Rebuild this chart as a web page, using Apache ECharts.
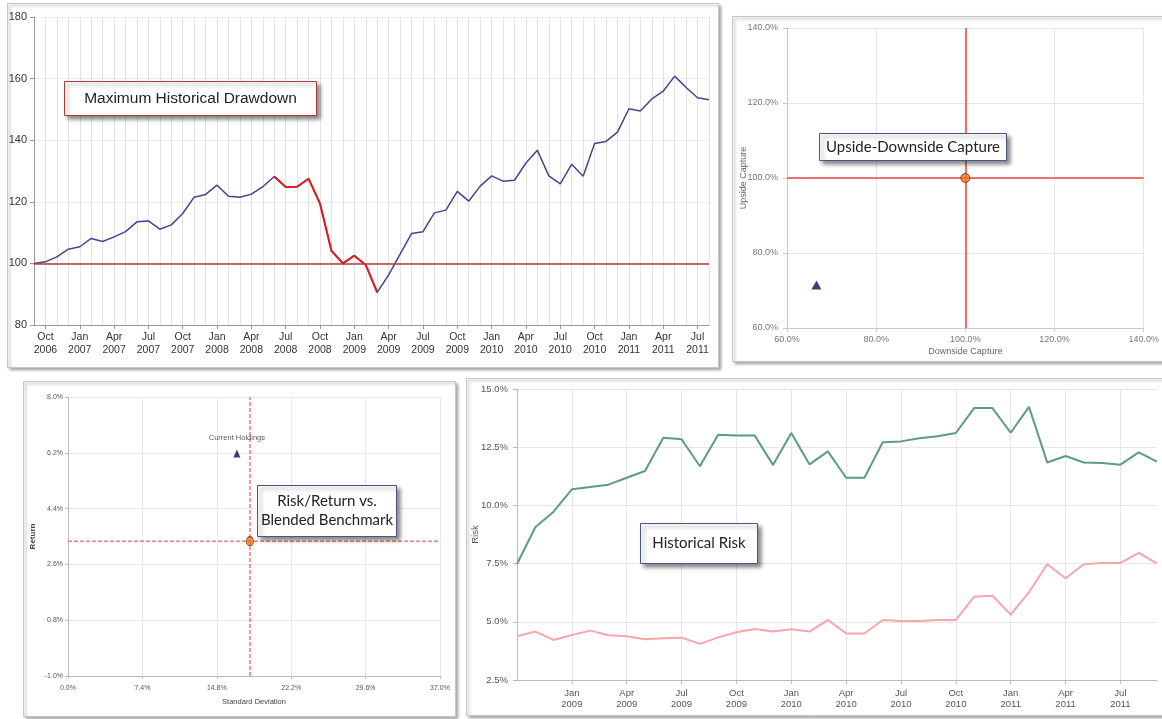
<!DOCTYPE html>
<html><head><meta charset="utf-8">
<script src="https://cdn.jsdelivr.net/npm/echarts@6/dist/echarts.min.js"></script>
<style>html,body{margin:0;padding:0;background:#fff}#c{width:1162px;height:719px}</style>
</head><body><div id="c"></div>
<script>
// ---- Panel 1: Maximum Historical Drawdown ----
const ddMonths = ['Sep 2006','Oct 2006','Nov 2006','Dec 2006',
  'Jan 2007','Feb 2007','Mar 2007','Apr 2007','May 2007','Jun 2007','Jul 2007','Aug 2007','Sep 2007','Oct 2007','Nov 2007','Dec 2007',
  'Jan 2008','Feb 2008','Mar 2008','Apr 2008','May 2008','Jun 2008','Jul 2008','Aug 2008','Sep 2008','Oct 2008','Nov 2008','Dec 2008',
  'Jan 2009','Feb 2009','Mar 2009','Apr 2009','May 2009','Jun 2009','Jul 2009','Aug 2009','Sep 2009','Oct 2009','Nov 2009','Dec 2009',
  'Jan 2010','Feb 2010','Mar 2010','Apr 2010','May 2010','Jun 2010','Jul 2010','Aug 2010','Sep 2010','Oct 2010','Nov 2010','Dec 2010',
  'Jan 2011','Feb 2011','Mar 2011','Apr 2011','May 2011','Jun 2011','Jul 2011','Aug 2011'];
const ddValues = [100.0,100.5,102.1,104.6,
  105.4,108.1,107.1,108.6,110.3,113.5,113.8,111.1,112.5,116.2,121.5,122.4,
  125.4,121.8,121.5,122.5,124.9,128.2,124.8,124.9,127.5,119.4,104.1,100.0,
  102.5,99.5,90.6,96.3,103.0,109.7,110.3,116.4,117.3,123.4,120.2,125.1,
  128.4,126.7,127.0,132.6,136.7,128.4,125.8,132.2,128.3,138.9,139.6,142.6,
  150.2,149.5,153.4,155.9,160.8,157.1,153.8,153.1];
const ddStart = 'Jun 2008';
const ddEnd = 'Mar 2009';
const ddBase = 100;

// ---- Panel 2: Upside-Downside Capture ----
const capHoldings = [66.6, 71.5];     // [downside, upside]
const capBenchmark = [100, 100];

// ---- Panel 3: Risk/Return vs. Blended Benchmark ----
const rrHoldings = [16.8, 6.18];      // [std dev, return]
const rrBenchmark = [18.1, 3.35];
const rrXRange = [0, 37];             // axis extent, tick step 7.4
const rrYRange = [-1, 8];             // axis extent, tick step 1.8

// ---- Panel 4: Historical Risk ----
const riskMonths = ['Oct 2008','Nov 2008','Dec 2008',
  'Jan 2009','Feb 2009','Mar 2009','Apr 2009','May 2009','Jun 2009','Jul 2009','Aug 2009','Sep 2009','Oct 2009','Nov 2009','Dec 2009',
  'Jan 2010','Feb 2010','Mar 2010','Apr 2010','May 2010','Jun 2010','Jul 2010','Aug 2010','Sep 2010','Oct 2010','Nov 2010','Dec 2010',
  'Jan 2011','Feb 2011','Mar 2011','Apr 2011','May 2011','Jun 2011','Jul 2011','Aug 2011','Sep 2011'];
const riskGreen = [7.48,9.06,9.73,10.69,10.79,10.89,11.19,11.48,12.91,12.84,11.68,13.04,13.0,13.0,11.74,
  13.11,11.76,12.32,11.19,11.19,12.71,12.75,12.88,12.97,13.11,14.18,14.18,13.12,14.23,11.84,12.12,11.84,11.82,11.75,12.28,11.88];
const riskPink = [4.38,4.58,4.22,4.43,4.62,4.42,4.38,4.25,4.29,4.32,4.05,4.33,4.55,4.69,4.58,
  4.68,4.58,5.08,4.50,4.50,5.08,5.03,5.03,5.08,5.08,6.08,6.12,5.31,6.27,7.47,6.87,7.47,7.53,7.53,7.96,7.51];

const F = '"Liberation Sans", Arial, sans-serif';
const FB = 'Lato, "Open Sans", sans-serif';

const iS = ddMonths.indexOf(ddStart), iE = ddMonths.indexOf(ddEnd);
const ddRed = ddValues.map((v, i) => (i >= iS && i <= iE) ? v : null);
const quarterly = (i, v) => /^(Jan|Apr|Jul|Oct)/.test(v);
const quarterly4 = (i, v) => i > 0 && /^(Jan|Apr|Jul|Oct)/.test(v);
const nl = v => v.replace(' ', '\n');
const pct1 = v => v.toFixed(1) + '%';

function panel(x, y, w, h) {
  return {type:'rect', z:-10, shape:{x, y, width:w, height:h},
    style:{fill:'#fff', stroke:'#c6c6c6', lineWidth:1, shadowBlur:3, shadowOffsetX:2, shadowOffsetY:2, shadowColor:'rgba(0,0,0,0.35)'}};
}
function box(x, y, w, h, stroke, text, font, lh) {
  return {type:'group', children:[
    {type:'rect', z:100, shape:{x, y, width:w, height:h},
      style:{fill:'#fff', stroke, lineWidth:1, shadowBlur:4, shadowOffsetX:3, shadowOffsetY:3, shadowColor:'rgba(0,0,0,0.45)'}},
    {type:'text', z:101, x:x + w/2, y:y + h/2,
      style:{text, fill:'#222', font, align:'center', verticalAlign:'middle', lineHeight:lh || 18}}
  ]};
}

const RR_RED = '#e83535';
const CAP_RED = '#e84545';
const capLine = {color:CAP_RED, width:1.5, type:'solid'};

const chart = echarts.init(document.getElementById('c'));
chart.setOption({
  animation:false,
  backgroundColor:'#fff',
  graphic:{elements:[
    panel(7.5, 3.5, 711, 364),
    panel(732.5, 16.5, 440, 345),
    panel(23.5, 381.5, 432, 335),
    panel(466.5, 378.5, 710, 337),
    box(64.5, 81.5, 252, 34, '#a83a3a', 'Maximum Historical Drawdown', '15.5px ' + F),
    box(819.5, 133.5, 187, 27, '#4a5880', 'Upside-Downside Capture', '15px ' + FB),
    box(257.5, 485.5, 139, 51, '#4a5880', 'Risk/Return vs.\nBlended Benchmark', '15px ' + FB, 19),
    box(640.5, 523.5, 117, 40, '#4a5880', 'Historical Risk', '15px ' + FB)
  ]},
  grid:[
    {left:34, top:17, width:675, height:308},
    {left:787, top:28, width:358, height:300},
    {left:68, top:397, width:372, height:279},
    {left:517, top:389, width:640, height:291}
  ],
  xAxis:[
    {gridIndex:0, type:'category', data:ddMonths, boundaryGap:false,
      axisLine:{onZero:false, lineStyle:{color:'#999'}},
      axisTick:{show:true, interval:quarterly, length:4, lineStyle:{color:'#999'}},
      axisLabel:{interval:quarterly, formatter:nl, color:'#333', fontSize:10.5, fontFamily:F, margin:6, lineHeight:13},
      splitLine:{show:true, interval:0, lineStyle:{color:'#e2e2e2'}}},
    {gridIndex:1, type:'value', min:60, max:140, interval:20,
      name:'Downside Capture', nameLocation:'middle', nameGap:19, nameMoveOverlap:false,
      nameTextStyle:{color:'#666', fontSize:9, fontFamily:F},
      axisLine:{show:true, onZero:false, lineStyle:{color:'#c8c8c8'}},
      axisTick:{show:true, length:4, lineStyle:{color:'#c8c8c8'}},
      axisLabel:{formatter:pct1, color:'#777', fontSize:9, fontFamily:F, margin:7},
      splitLine:{show:true, lineStyle:{color:'#e6e6e6'}}},
    {gridIndex:2, type:'value', min:rrXRange[0], max:rrXRange[1], interval:7.4,
      name:'Standard Deviation', nameLocation:'middle', nameGap:22, nameMoveOverlap:false,
      nameTextStyle:{color:'#444', fontSize:7.5, fontFamily:F},
      axisLine:{show:true, onZero:false, lineStyle:{color:'#bbb'}},
      axisTick:{show:true, length:3, lineStyle:{color:'#bbb'}},
      axisLabel:{formatter:pct1, color:'#555', fontSize:7, fontFamily:F, margin:9},
      splitLine:{show:true, lineStyle:{color:'#e8e8e8'}}},
    {gridIndex:3, type:'category', data:riskMonths, boundaryGap:false,
      axisLine:{onZero:false, lineStyle:{color:'#bbb'}},
      axisTick:{show:true, interval:quarterly4, length:4, lineStyle:{color:'#bbb'}},
      axisLabel:{interval:quarterly4, formatter:nl, color:'#555', fontSize:9.5, fontFamily:F, margin:8, lineHeight:11},
      splitLine:{show:true, interval:quarterly4, lineStyle:{color:'#e6e6e6'}}}
  ],
  yAxis:[
    {gridIndex:0, type:'value', min:80, max:180, interval:20,
      axisLine:{show:true, onZero:false, lineStyle:{color:'#999'}},
      axisTick:{show:true, length:4, lineStyle:{color:'#999'}},
      axisLabel:{color:'#333', fontSize:11, fontFamily:F, margin:7},
      splitLine:{show:true, lineStyle:{color:'#ebebeb'}}},
    {gridIndex:1, type:'value', min:60, max:140, interval:20,
      name:'Upside Capture', nameLocation:'middle', nameGap:39, nameMoveOverlap:false,
      nameTextStyle:{color:'#666', fontSize:9, fontFamily:F},
      axisLine:{show:true, onZero:false, lineStyle:{color:'#c8c8c8'}},
      axisTick:{show:true, length:4, lineStyle:{color:'#c8c8c8'}},
      axisLabel:{formatter:pct1, color:'#777', fontSize:9, fontFamily:F, margin:9},
      splitLine:{show:true, lineStyle:{color:'#e6e6e6'}}},
    {gridIndex:2, type:'value', min:rrYRange[0], max:rrYRange[1], interval:1.8,
      name:'Return', nameLocation:'middle', nameGap:31, nameMoveOverlap:false,
      nameTextStyle:{color:'#444', fontSize:8, fontWeight:'bold', fontFamily:F},
      axisLine:{show:true, onZero:false, lineStyle:{color:'#bbb'}},
      axisTick:{show:true, length:3, lineStyle:{color:'#bbb'}},
      axisLabel:{formatter:pct1, color:'#555', fontSize:7, fontFamily:F, margin:5},
      splitLine:{show:true, lineStyle:{color:'#e8e8e8'}}},
    {gridIndex:3, type:'value', min:2.5, max:15, interval:2.5,
      name:'Risk', nameLocation:'middle', nameGap:37, nameMoveOverlap:false,
      nameTextStyle:{color:'#555', fontSize:9.5, fontFamily:F},
      axisLine:{show:true, onZero:false, lineStyle:{color:'#bbb'}},
      axisTick:{show:true, length:4, lineStyle:{color:'#bbb'}},
      axisLabel:{formatter:pct1, color:'#555', fontSize:9.5, fontFamily:F, margin:9},
      splitLine:{show:true, lineStyle:{color:'#e6e6e6'}}}
  ],
  series:[
    {type:'line', xAxisIndex:0, yAxisIndex:0, data:ddValues, symbol:'none', z:3,
      lineStyle:{color:'#45458f', width:1.5},
      markLine:{silent:true, symbol:'none', label:{show:false}, data:[{yAxis:ddBase}],
        lineStyle:{color:'#b03a3a', width:1.5, type:'solid'}}},
    {type:'line', xAxisIndex:0, yAxisIndex:0, data:ddRed, symbol:'none', z:4,
      lineStyle:{color:'#e01c1c', width:2}},
    // crosshair helper (panel 2)
    {type:'scatter', xAxisIndex:1, yAxisIndex:1, data:[capBenchmark], symbolSize:0, z:2, silent:true,
      itemStyle:{color:CAP_RED},
      markLine:{silent:true, symbol:'none', label:{show:false},
        data:[{xAxis:capBenchmark[0]},{yAxis:capBenchmark[1]}], lineStyle:capLine}},
    {type:'scatter', xAxisIndex:1, yAxisIndex:1, data:[capHoldings], symbol:'triangle', symbolSize:[10,9], z:3,
      itemStyle:{color:'#0c0c55'}},
    {type:'scatter', xAxisIndex:1, yAxisIndex:1, data:[capBenchmark], symbol:'circle', symbolSize:9, z:5,
      itemStyle:{color:'#e8781e', borderColor:'#6b3000', borderWidth:1}},
    // crosshair (panel 3): benchmark value across the full axis extent
    {type:'line', xAxisIndex:2, yAxisIndex:2, symbol:'none', z:2, silent:true,
      data:[[rrBenchmark[0], rrYRange[0]], [rrBenchmark[0], rrYRange[1]]],
      lineStyle:{color:RR_RED, width:1, type:[4,2]}},
    {type:'line', xAxisIndex:2, yAxisIndex:2, symbol:'none', z:2, silent:true,
      data:[[rrXRange[0], rrBenchmark[1]], [rrXRange[1], rrBenchmark[1]]],
      lineStyle:{color:RR_RED, width:1, type:[4,2]}},
    {type:'scatter', xAxisIndex:2, yAxisIndex:2, data:[rrHoldings], symbol:'triangle', symbolSize:[7,8], z:3,
      itemStyle:{color:'#0c0c55'},
      label:{show:true, position:'top', distance:7, formatter:'Current Holdings', color:'#333', fontSize:7.5, fontFamily:F}},
    {type:'scatter', xAxisIndex:2, yAxisIndex:2, data:[rrBenchmark], symbol:'circle', symbolSize:[7,9], z:5,
      itemStyle:{color:'#e8781e', borderColor:'#6b3000', borderWidth:1}},
    {type:'line', xAxisIndex:3, yAxisIndex:3, data:riskGreen, symbol:'none',
      lineStyle:{color:'#5e9c80', width:2}},
    {type:'line', xAxisIndex:3, yAxisIndex:3, data:riskPink, symbol:'none',
      lineStyle:{color:'#f5a7ab', width:2}}
  ]
});
</script></body></html>
